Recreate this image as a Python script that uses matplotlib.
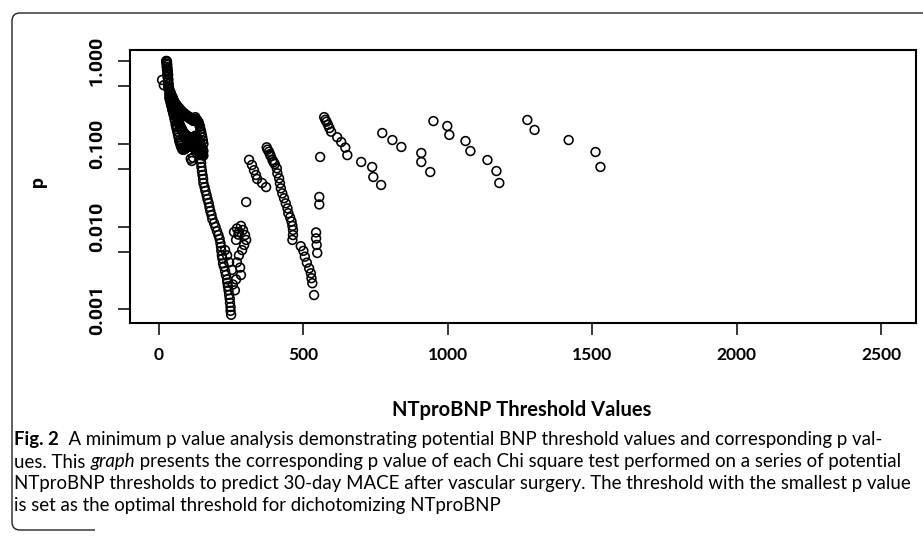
import numpy as np
import matplotlib
matplotlib.use('Agg')
from matplotlib import pyplot as plt
from matplotlib.path import Path
from matplotlib.patches import PathPatch
from matplotlib.ticker import NullFormatter

W, H = 923, 539

# values (threshold, p value)
# steep top of the first cluster
top_x = [25, 27, 28, 26, 29, 27, 30, 28, 31, 29, 32, 30, 11, 17, 33, 31, 34, 32, 35, 33]
top_p = [1.0, 1.0, 0.97, 0.93, 0.9, 0.85, 0.82, 0.78, 0.75, 0.7, 0.68, 0.64, 0.59, 0.51,
         0.6, 0.57, 0.53, 0.5, 0.48, 0.46]

# thick band of the first cluster: three p values per threshold
band_x = [36, 38, 40, 42, 44, 46, 48, 50, 52, 54, 56, 58, 60, 62, 64, 66, 68, 70, 72, 74,
          76, 78, 80, 82, 84, 86, 88, 90, 92, 94, 96, 98, 100, 102, 104, 106, 108, 110, 112, 114,
          116, 118, 120, 122, 124, 126, 128, 130, 132, 134, 136, 138, 140, 142, 144, 146, 148, 150, 152, 154]
band_hi = [0.45, 0.43, 0.42, 0.40, 0.38, 0.37, 0.36, 0.34, 0.33, 0.32, 0.31, 0.30, 0.30, 0.29, 0.28,
           0.28, 0.27, 0.27, 0.26, 0.26, 0.25, 0.25, 0.24, 0.24, 0.24, 0.23, 0.23, 0.23, 0.22, 0.22,
           0.22, 0.22, 0.21, 0.21, 0.21, 0.21, 0.20, 0.20, 0.20, 0.20, 0.20, 0.19, 0.19, 0.19, 0.20,
           0.21, 0.20, 0.19, 0.19, 0.19, 0.18, 0.18, 0.17, 0.16, 0.15, 0.14, 0.13, 0.12, 0.11, 0.10]
band_mid = [0.40, 0.38, 0.36, 0.34, 0.32, 0.30, 0.29, 0.28, 0.27, 0.25, 0.24, 0.23, 0.22, 0.21, 0.20,
            0.19, 0.18, 0.18, 0.17, 0.16, 0.16, 0.15, 0.15, 0.14, 0.14, 0.135, 0.13, 0.13, 0.13, 0.125,
            0.125, 0.125, 0.12, 0.12, 0.12, 0.12, 0.12, 0.12, 0.12, 0.12, 0.12, 0.12, 0.12, 0.12, 0.12,
            0.125, 0.125, 0.12, 0.12, 0.115, 0.11, 0.11, 0.105, 0.10, 0.10, 0.095, 0.09, 0.088, 0.085, 0.082]
band_lo = [0.36, 0.34, 0.32, 0.30, 0.28, 0.26, 0.25, 0.23, 0.22, 0.20, 0.19, 0.17, 0.16, 0.15, 0.14,
           0.13, 0.12, 0.11, 0.105, 0.10, 0.095, 0.09, 0.088, 0.085, 0.085, 0.085, 0.086, 0.087, 0.088, 0.09,
           0.09, 0.092, 0.092, 0.093, 0.094, 0.095, 0.095, 0.095, 0.094, 0.093, 0.092, 0.09, 0.09, 0.088, 0.087,
           0.086, 0.085, 0.084, 0.083, 0.082, 0.081, 0.080, 0.079, 0.078, 0.077, 0.076, 0.075, 0.074, 0.073, 0.072]
low_x = [110, 114, 118]
low_p = [0.066, 0.062, 0.068]

# first drop down to the minimum
drop1_x = [142, 144, 146, 147, 149, 151, 153, 154, 158, 161, 165, 168, 172, 175, 178, 182, 185, 191,
           196, 201, 206, 210, 213, 215, 216, 218, 220, 222, 225, 229, 232, 236, 237, 239, 241, 243,
           245, 246, 248, 248, 250]
drop1_p = [0.073, 0.0655, 0.059, 0.0525, 0.047, 0.042, 0.0376, 0.0336, 0.030, 0.027, 0.024, 0.0215,
           0.0193, 0.0172, 0.0154, 0.0138, 0.0123, 0.011, 0.0099, 0.0088, 0.0079, 0.0071, 0.0063, 0.0057,
           0.0051, 0.0045, 0.0041, 0.0036, 0.0033, 0.0029, 0.0026, 0.0023, 0.0021, 0.0019, 0.0017, 0.0015,
           0.00135, 0.0012, 0.00107, 0.00096, 0.00086]

# rebound right after the minimum
reb_x = [260, 270, 275, 267, 277, 284, 291, 298, 302, 295, 288, 277, 270, 281, 284, 267, 256, 263,
         253, 243, 236, 229]
reb_p = [0.0086, 0.0095, 0.008, 0.0069, 0.0086, 0.0102, 0.0091, 0.0079, 0.0069, 0.006, 0.0052, 0.0045,
         0.0037, 0.0032, 0.0026, 0.0023, 0.002, 0.0017, 0.003, 0.0037, 0.0045, 0.0052]

# small group after the rebound
grpa_x = [302, 312, 322, 329, 336, 340, 357, 371]
grpa_p = [0.0198, 0.064, 0.0555, 0.048, 0.042, 0.0376, 0.0336, 0.030]

# second drop
drop2_x = [373, 376, 381, 384, 387, 393, 397, 401, 408, 410, 416, 419, 422, 427, 433, 439, 445, 448,
           454, 459, 462, 464, 464, 462, 491, 500, 505, 512, 520, 526, 528, 531, 537]
drop2_p = [0.0907, 0.085, 0.0803, 0.075, 0.0712, 0.0637, 0.06, 0.057, 0.0506, 0.044, 0.0383, 0.0333,
           0.029, 0.0252, 0.022, 0.0191, 0.0166, 0.0145, 0.0129, 0.0115, 0.0102, 0.0091, 0.0079, 0.0069,
           0.0058, 0.0051, 0.00433, 0.00367, 0.00313, 0.00273, 0.00238, 0.00207, 0.00149]

# sparse points above ~540
rest_x = [544, 544, 546, 548, 555, 555, 558, 572, 576, 580, 585, 590, 596, 617, 631, 645, 652, 700,
          738, 742, 769, 773, 808, 839, 908, 908, 939, 950, 998, 1005, 1061, 1078, 1137, 1168, 1178,
          1275, 1300, 1418, 1511, 1528]
rest_p = [0.0085, 0.0072, 0.006, 0.0048, 0.0228, 0.0185, 0.0693, 0.21, 0.195, 0.185, 0.17, 0.155,
          0.14, 0.12, 0.105, 0.09, 0.073, 0.0603, 0.0525, 0.0397, 0.0318, 0.135, 0.111, 0.0915, 0.0774,
          0.0603, 0.0456, 0.188, 0.164, 0.128, 0.108, 0.0818, 0.0637, 0.0469, 0.0336, 0.194, 0.147,
          0.111, 0.0796, 0.0525]

y_ticks = [0.001, 0.01, 0.1, 1.0]
y_labels = ['0.001', '0.010', '0.100', '1.000']
y_minor = [0.005, 0.05, 0.5]
x_ticks = [0, 500, 1000, 1500, 2000, 2500]

x_all = (top_x + band_x * 3 + low_x + drop1_x + reb_x + grpa_x + drop2_x + rest_x)
p_all = (top_p + band_hi + band_mid + band_lo + low_p + drop1_p + reb_p + grpa_p + drop2_p + rest_p)


def fx(px):
    return px / W


def fy(py):
    return 1 - py / H


fig = plt.figure(figsize=(W / 100, H / 100), dpi=100)
ax = fig.add_axes([fx(130), fy(323), (916 - 130) / W, (323 - 50) / H])

ax.scatter(x_all, p_all, s=40, facecolors='none', edgecolors='black', linewidths=1.15, zorder=3)

ax.set_yscale('log')
ax.set_xlim(-100, 2620)
ax.set_ylim(0.000685, 1.358)
ax.set_xticks(x_ticks)
ax.set_xticklabels([str(t) for t in x_ticks], family='Lato', fontweight='bold', fontsize=12.5)
ax.set_yticks(y_ticks)
ax.set_yticklabels(y_labels, rotation=90, va='center', family='Roboto',
                   fontweight='bold', fontsize=14)
ax.set_yticks(y_minor, minor=True)
ax.yaxis.set_minor_formatter(NullFormatter())
ax.tick_params(axis='both', which='both', direction='out', length=8.5, width=1.1, color='black')
ax.tick_params(axis='x', pad=9)
ax.tick_params(axis='y', pad=9)
for s in ax.spines.values():
    s.set_linewidth(1.5)

fig.text(fx(38), fy(182), 'p', rotation=90, ha='center', va='center',
         family='Roboto', fontweight='bold', fontsize=14)
fig.text(fx(522), fy(410), 'NTproBNP Threshold Values', ha='center', va='center',
         family='Lato', fontweight='bold', fontsize=14.5)

# caption, drawn piece by piece so bold / italic parts line up
cap_lines = [
    [('Fig. 2', 'bold', 'normal'),
     ('  A minimum p value analysis demonstrating potential BNP threshold values and corresponding p val-', 'normal', 'normal')],
    [('ues. This ', 'normal', 'normal'), ('graph', 'normal', 'italic'),
     (' presents the corresponding p value of each Chi square test performed on a series of potential', 'normal', 'normal')],
    [('NTproBNP thresholds to predict 30-day MACE after vascular surgery. The threshold with the smallest p value', 'normal', 'normal')],
    [('is set as the optimal threshold for dichotomizing NTproBNP', 'normal', 'normal')],
]
cap_y = [439, 462, 484, 506]
renderer = fig.canvas.get_renderer()
for line, py in zip(cap_lines, cap_y):
    px = 14
    for txt, wt, st in line:
        t = fig.text(fx(px), fy(py), txt, ha='left', va='center', family='Lato',
                     fontweight=wt, style=st, fontsize=13.4)
        px += t.get_window_extent(renderer).width

# rounded frame of the scanned page
r = 8
verts = [(95, 530), (12 + r, 530), (12, 530), (12, 530 - r), (12, 13 + r), (12, 13), (12 + r, 13), (923, 13)]
codes = [Path.MOVETO, Path.LINETO, Path.CURVE3, Path.CURVE3, Path.LINETO, Path.CURVE3, Path.CURVE3, Path.LINETO]
frame = Path([(fx(a), fy(b)) for a, b in verts], codes)
fig.patches.append(PathPatch(frame, transform=fig.transFigure, fill=False, lw=1.0, edgecolor='#222222'))

fig.savefig('out.png', dpi=100)
